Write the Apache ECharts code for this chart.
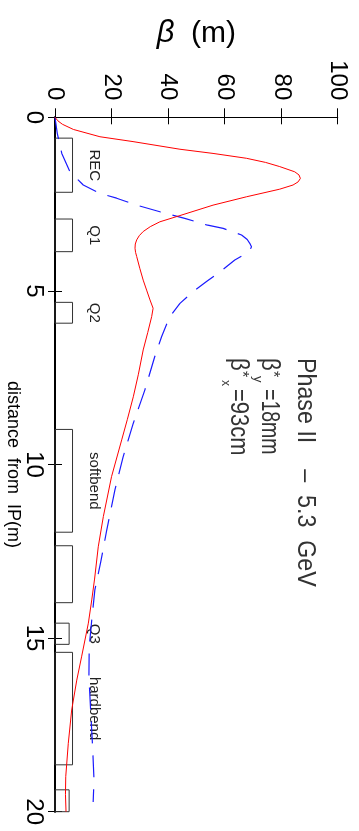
<!DOCTYPE html>
<html><head><meta charset="utf-8">
<script src="https://cdn.jsdelivr.net/npm/echarts@6/dist/echarts.min.js"></script>
<style>
html,body{margin:0;padding:0;background:#fff;overflow:hidden;width:359px;height:831px;}
#c{width:359px;height:831px;}
</style></head>
<body><div id="c"></div>
<script>
// distance from IP (m) and beta (m)
const redDist = [0, 0.1, 0.2, 0.35, 0.56, 0.70, 0.92, 1.04, 1.18, 1.30, 1.42, 1.57, 1.66, 1.76, 1.86, 1.95, 2.07, 2.29, 2.53, 2.83, 3.01, 3.15, 3.29, 3.41, 3.53, 3.65, 3.77, 3.89, 4.01, 4.35, 4.69, 5.0, 5.26, 5.50, 5.74, 6.2, 6.7, 7.4, 8.05, 8.7, 9.29, 10.35, 11.50, 12.37, 13.3, 13.90, 14.57, 15.54, 16.21, 17.07, 18.03, 18.99, 19.5, 20];
const redBeta = [0, 1.0, 2.6, 6.5, 15.9, 27.6, 44.2, 55.9, 67.7, 74.5, 79.5, 84.8, 86.3, 86.8, 86.0, 84.2, 79.5, 67.7, 55.9, 44.2, 37.1, 33.7, 31.2, 29.8, 28.9, 28.4, 28.3, 28.5, 28.9, 30.0, 31.2, 32.5, 33.6, 34.7, 34.2, 32.8, 31.2, 29.5, 27.7, 25.6, 23.6, 20.0, 17.1, 15.3, 14.0, 13.0, 11.8, 9.4, 7.7, 5.9, 4.7, 3.8, 3.7, 3.9];
const blueDist = [0, 0.46, 1.04, 1.57, 1.95, 2.19, 2.33, 2.53, 2.72, 2.91, 3.10, 3.20, 3.39, 3.52, 3.63, 3.73, 3.82, 3.92, 4.11, 4.38, 4.73, 5.02, 5.36, 5.74, 6.32, 6.89, 7.85, 8.81, 9.78, 10.73, 11.89, 12.80, 13.61, 14.48, 15.25, 16.11, 17.07, 18.13, 19.09, 19.72];
const blueBeta = [0, 0.8, 2.4, 5.3, 10.0, 15.9, 21.8, 28.9, 37.1, 45.9, 53.6, 59.5, 66.0, 68.0, 68.9, 69.5, 69.0, 67.7, 63.6, 59.5, 53.6, 48.9, 44.2, 40.6, 37.7, 35.3, 31.8, 27.7, 24.1, 21.2, 18.3, 16.2, 14.1, 13.0, 12.1, 12.0, 12.6, 13.3, 13.8, 13.5];
// magnet elements
const magnetNames = ['REC', 'Q1', 'Q2', 'softbend', '', 'Q3', 'hardbend', ''];
const magnetStart = [0.60, 2.93, 5.33, 8.99, 12.34, 14.57, 15.41, 19.37];
const magnetEnd = [2.16, 3.87, 5.93, 11.95, 13.98, 15.18, 18.65, 20];
const magnetHeight = [6.2, 6.2, 6.2, 6.2, 6.2, 5.0, 6.2, 5.0];
const magnetLabelBeta = 13.8;
const distTicks = [0, 5, 10, 15, 20];
const betaTicks = [0, 20, 40, 60, 80, 100];

const FONT = "'Liberation Sans', Arial, sans-serif";
const ROT = -Math.PI / 2;
const chart = echarts.init(document.getElementById('c'), null, {renderer: 'canvas', width: 359, height: 831});

const magnetData = magnetStart.map((s, i) => [s, magnetEnd[i], magnetHeight[i]]);
// annotation text, rotated to read top-to-bottom
const txt = (t, x, y, size, sx) => ({
  type: 'text', x: x, y: y, rotation: ROT, scaleX: sx || 1,
  style: {text: t, font: size + 'px ' + FONT, fill: '#333', textAlign: 'left', textVerticalAlign: 'middle', align: 'left', verticalAlign: 'middle'}
});

chart.setOption({
  animation: false,
  backgroundColor: '#fff',
  grid: {left: 55, right: 21.3, top: 117.3, bottom: 19.3, containLabel: false, outerBoundsMode: 'none'},
  yAxis: [{
    type: 'value', inverse: true, min: distTicks[0], max: distTicks[distTicks.length - 1], interval: 5, position: 'left',
    axisLine: {show: true, lineStyle: {color: '#000', width: 1.5}},
    axisTick: {show: true, inside: false, length: 7, lineStyle: {color: '#000', width: 1}},
    axisLabel: {fontSize: 24, color: '#000', fontFamily: FONT, margin: 9, rotate: -90},
    splitLine: {show: false},
    name: 'distance  from  IP(m)', nameLocation: 'middle', nameGap: 33, nameRotate: -90, nameMoveOverlap: false,
    nameTextStyle: {fontSize: 18, color: '#000', fontFamily: FONT}
  }, {
    type: 'value', inverse: true, min: 0, max: 20, interval: 5, position: 'right',
    axisLine: {show: true, lineStyle: {color: '#000', width: 2}},
    axisTick: {show: true, inside: false, length: 7, lineStyle: {color: '#000', width: 1}},
    axisLabel: {show: false}, splitLine: {show: false}
  }],
  xAxis: [{
    type: 'value', min: betaTicks[0], max: betaTicks[betaTicks.length - 1], interval: 20, position: 'top',
    axisLine: {show: true, lineStyle: {color: '#000', width: 1}},
    axisTick: {show: true, inside: false, length: 9, lineStyle: {color: '#000', width: 1}},
    axisLabel: {fontSize: 24, color: '#000', fontFamily: FONT, margin: 17, rotate: -90},
    splitLine: {show: false},
    name: '{b|β}  (m)', nameLocation: 'middle', nameGap: 68, nameMoveOverlap: false,
    nameTextStyle: {fontSize: 30, color: '#000', fontFamily: FONT, rich: {b: {fontSize: 31, fontStyle: 'italic', fontFamily: FONT, color: '#000'}}}
  }, {
    type: 'value', min: 0, max: 100, interval: 20, position: 'bottom',
    axisLine: {show: true, lineStyle: {color: '#000', width: 1}},
    axisTick: {show: true, inside: false, length: 7, lineStyle: {color: '#000', width: 1}},
    axisLabel: {show: false}, splitLine: {show: false}
  }],
  series: [{
    type: 'custom', xAxisIndex: 0, yAxisIndex: 0, data: magnetData, z: 1,
    renderItem: function (params, api) {
      const a = api.coord([0, api.value(0)]);
      const b = api.coord([api.value(2), api.value(1)]);
      const name = magnetNames[params.dataIndex];
      const pc = api.coord([magnetLabelBeta, (api.value(0) + api.value(1)) / 2]);
      const children = [{
        type: 'rect',
        shape: {x: a[0], y: a[1], width: b[0] - a[0], height: b[1] - a[1]},
        style: {fill: 'none', stroke: '#333', lineWidth: 1}
      }];
      if (name) children.push({
        type: 'text', x: pc[0], y: pc[1], rotation: ROT,
        style: {text: name, font: '15px ' + FONT, fill: '#222', align: 'center', verticalAlign: 'middle', textAlign: 'center', textVerticalAlign: 'middle'}
      });
      return {type: 'group', children: children};
    }
  }, {
    type: 'line', data: redDist.map((d, i) => [redBeta[i], d]), showSymbol: false, symbol: 'none',
    smooth: false, lineStyle: {color: '#ff0000', width: 1}, z: 3
  }, {
    type: 'line', data: blueDist.map((d, i) => [blueBeta[i], d]), showSymbol: false, symbol: 'none',
    smooth: false, lineStyle: {color: '#1a1aff', width: 1.2, type: [22, 12]}, z: 2
  }],
  graphic: [
    txt('Phase II    –  5.3  GeV', 305, 358, 25, 0.93),
    txt('β', 269, 358, 26, 0.85),
    txt('*', 272, 371, 16, 1),
    txt('y', 258, 376, 13, 1),
    txt('=18mm', 269, 389, 25, 0.78),
    txt('β', 238, 358, 26, 0.85),
    txt('*', 241, 371, 16, 1),
    txt('x', 225, 380, 12, 1),
    txt('=93cm', 238, 389, 25, 0.88)
  ]
});
</script></body></html>
